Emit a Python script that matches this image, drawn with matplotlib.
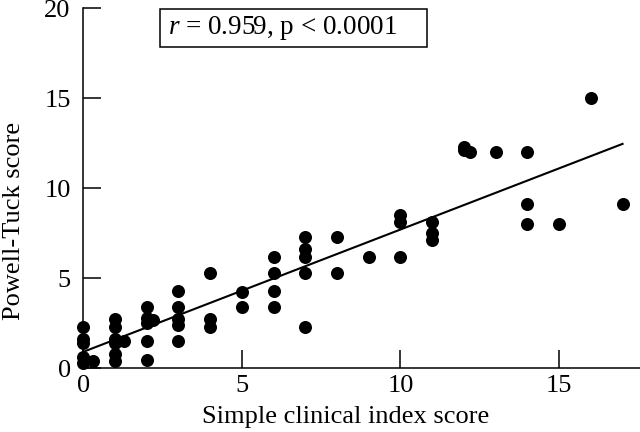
import numpy as np
import matplotlib
matplotlib.use("Agg")
import matplotlib.pyplot as plt
from matplotlib.patches import Rectangle

plt.rcParams['font.family'] = ['Liberation Serif', 'DejaVu Serif']
plt.rcParams['mathtext.fontset'] = 'custom'
plt.rcParams['mathtext.it'] = 'Liberation Serif:italic'
plt.rcParams['mathtext.rm'] = 'Liberation Serif'

# simple clinical index score (x) vs Powell-Tuck score (y)
sci = [0, 0, 0, 0, 0, 0.3,
       1, 1, 1, 1, 1, 1, 1.3,
       2, 2, 2, 2, 2, 2.2,
       3, 3, 3, 3, 3,
       4, 4, 4,
       5, 5,
       6, 6, 6, 6,
       7, 7, 7, 7, 7,
       8, 8,
       9,
       10, 10, 10,
       11, 11, 11,
       12, 12, 12.2,
       13,
       14, 14, 14,
       15,
       16,
       17]
pt = [2.3, 1.6, 1.4, 0.6, 0.3, 0.4,
      2.7, 2.3, 1.6, 1.4, 0.8, 0.4, 1.5,
      3.4, 2.8, 2.5, 1.5, 0.45, 2.65,
      4.3, 3.4, 2.7, 2.4, 1.5,
      5.3, 2.7, 2.3,
      4.2, 3.4,
      6.2, 5.3, 4.3, 3.4,
      7.3, 6.6, 6.2, 5.3, 2.3,
      7.3, 5.3,
      6.2,
      8.5, 8.1, 6.2,
      8.1, 7.5, 7.1,
      12.3, 12.1, 12.0,
      12.0,
      12.0, 9.1, 8.0,
      8.0,
      15.0,
      9.1]

# regression line as drawn
fit_x = [0, 17]
fit_intercept = 0.9
fit_slope = 0.68

fig = plt.figure(figsize=(6.4, 4.32), dpi=100)
ax = fig.add_axes([0.13, 0.148, 0.87, 0.833])

ax.scatter(sci, pt, s=88, color='black', zorder=3, clip_on=False, linewidths=0)
fx = np.array(fit_x)
ax.plot(fx, fit_intercept + fit_slope * fx, color='black', lw=1.5)

ax.set_xlim(0, 17.55)
ax.set_ylim(0, 20)
ax.set_xticks([0, 5, 10, 15])
ax.set_yticks([0, 5, 10, 15, 20])
ax.spines['top'].set_visible(False)
ax.spines['right'].set_visible(False)
for s in ['left', 'bottom']:
    ax.spines[s].set_linewidth(1.1)
ax.tick_params(direction='in', length=13, width=1.1, labelsize=19)
ax.tick_params(axis='y', pad=9)
ax.tick_params(axis='x', pad=5)

ax.set_xlabel('Simple clinical index score', fontsize=19)
ax.set_ylabel('Powell-Tuck score', fontsize=19)
ax.xaxis.set_label_coords(0.472, -0.105)
ax.yaxis.set_label_coords(-0.105, 0.41)

# annotation box (drawn separately: extra room on the right as in the original)
ax.add_patch(Rectangle((0.138, 0.892), 0.48, 0.105, transform=ax.transAxes,
                       fill=True, fc='white', ec='black', lw=1.1, clip_on=False,
                       zorder=4))
ax.text(0.153, 0.944, r'$r$ = 0.959, p < 0.0001', transform=ax.transAxes,
        fontsize=19.5, va='center', ha='left', zorder=5)

fig.savefig('out.png', dpi=100)
